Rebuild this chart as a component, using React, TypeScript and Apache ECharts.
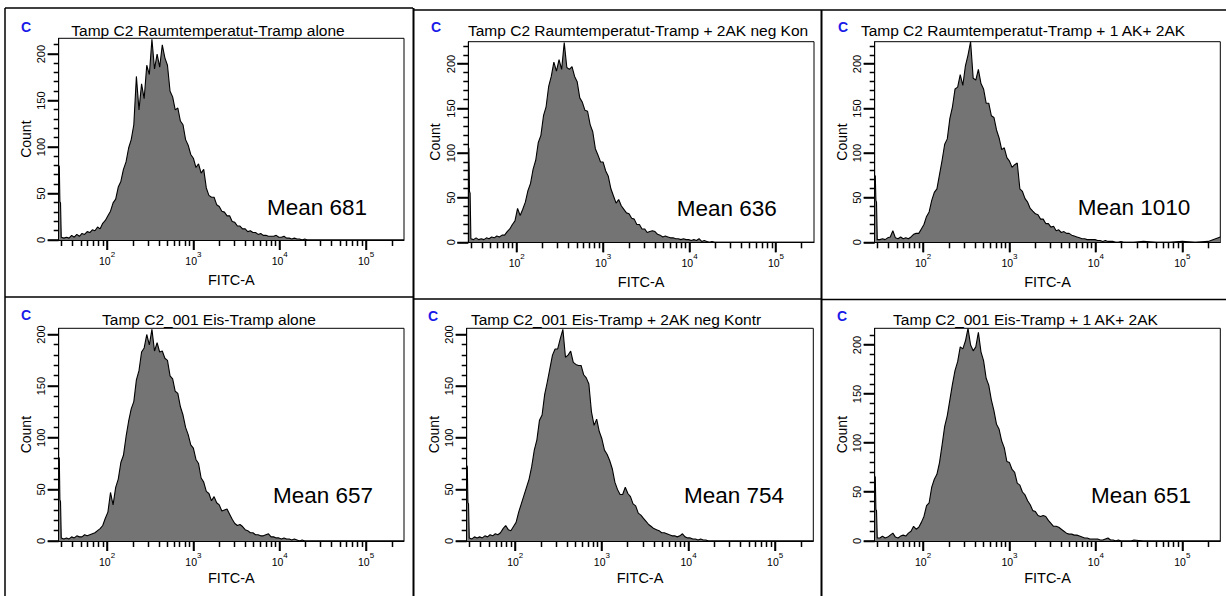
import React, { useEffect, useRef } from "react";
import * as echarts from "echarts";

const FONT = "'Liberation Sans', Arial, Helvetica, sans-serif";

// Bin centres of the FITC-A histogram, in log10(FITC-A) units
const BIN_LOG = [
  1.44, 1.447, 1.454, 1.461, 1.47,
  1.5, 1.53, 1.56, 1.59, 1.62, 1.65, 1.68, 1.71,
  1.74, 1.77, 1.8, 1.83, 1.86, 1.89, 1.92, 1.95, 1.98, 2.01,
  2.04, 2.07, 2.1, 2.13, 2.16, 2.19, 2.22, 2.25, 2.28, 2.31,
  2.34, 2.37, 2.4, 2.43, 2.46, 2.49, 2.52, 2.55, 2.58, 2.61,
  2.64, 2.67, 2.7, 2.73, 2.76, 2.79, 2.82, 2.85, 2.88, 2.91,
  2.94, 2.97, 3.0, 3.03, 3.06, 3.09, 3.12, 3.15, 3.18, 3.21,
  3.24, 3.27, 3.3, 3.33, 3.36, 3.39, 3.42, 3.45, 3.48, 3.51,
  3.54, 3.57, 3.6, 3.63, 3.66, 3.69, 3.72, 3.75, 3.78, 3.81,
  3.84, 3.87, 3.9, 3.93, 3.96, 3.99, 4.02, 4.05, 4.08, 4.11,
  4.14, 4.17, 4.2, 4.23, 4.26, 4.29, 4.32, 4.35, 4.38, 4.41,
  4.44,
  4.55, 4.7, 4.85, 5.0, 5.15, 5.3, 5.44,
];

const COUNTS_RT_ALONE = [
  80, 79, 41, 40, 3,
  2, 3, 2, 5, 3, 6, 4, 7,
  6, 9, 8, 11, 10, 14, 12, 18, 21, 26,
  31, 40, 44, 57, 63, 76, 84, 99, 108, 124,
  176, 140, 168, 152, 188, 178, 216, 184, 200, 186,
  210, 196, 188, 160, 154, 140, 142, 128, 124, 108,
  102, 92, 88, 78, 82, 72, 76, 56, 48, 46,
  46, 38, 36, 31, 30, 26, 26, 20, 19, 15,
  15, 12, 12, 9, 10, 8, 8, 6, 7, 5,
  5, 4, 4, 4, 5, 3, 3, 4, 2, 2,
  1, 2, 1, 1, 0, 1, 0, 0, 0, 0,
  0,
  0, 0, 0, 0, 0, 0, 0,
];

const COUNTS_RT_NEG = [
  107, 105, 57, 55, 4,
  3, 5, 3, 4, 3, 5, 4, 6,
  5, 7, 6, 8, 8, 12, 15, 20, 24, 38,
  30, 37, 45, 58, 66, 82, 92, 112, 120, 142,
  152, 175, 186, 202, 192, 205, 194, 224, 196, 194,
  197, 186, 180, 162, 157, 148, 147, 132, 124, 105,
  98, 90, 90, 80, 74, 60, 52, 44, 48, 41,
  37, 33, 32, 27, 26, 20, 20, 15, 15, 11,
  12, 13, 12, 9, 8, 6, 7, 6, 5, 5,
  4, 4, 3, 4, 3, 3, 2, 3, 2, 4,
  1, 2, 1, 0, 1, 0, 0, 0, 0, 0,
  0,
  0, 0, 0, 0, 0, 0, 0,
];

const COUNTS_RT_AK = [
  75, 74, 47, 45, 3,
  3, 4, 3, 5, 6, 13, 5, 4,
  6, 4, 5, 4, 6, 9, 10, 10, 15, 20,
  29, 34, 47, 56, 60, 76, 92, 110, 116, 139,
  152, 172, 174, 188, 176, 198, 210, 225, 184, 182,
  194, 178, 172, 156, 156, 142, 140, 126, 117, 104,
  106, 95, 91, 84, 87, 89, 60, 57, 49, 45,
  38, 35, 32, 31, 26, 26, 21, 21, 17, 18,
  13, 14, 11, 12, 10, 10, 8, 7, 6, 5,
  4, 4, 3, 3, 3, 3, 2, 2, 1, 2,
  1, 1, 1, 0, 0, 1, 0, 0, 0, 0,
  0,
  1, 0, 0, 1, 0, 1, 6,
];

const COUNTS_ICE_ALONE = [
  81, 80, 40, 38, 3,
  2, 3, 2, 4, 3, 5, 4, 4,
  6, 5, 6, 7, 8, 10, 12, 15, 22, 28,
  47, 35, 52, 60, 76, 83, 101, 116, 128, 135,
  156, 165, 183, 187, 200, 190, 205, 184, 192, 183,
  184, 177, 175, 160, 157, 145, 143, 130, 122, 110,
  103, 93, 90, 79, 75, 61, 57, 48, 46, 39,
  43, 37, 35, 29, 30, 31, 26, 21, 17, 15,
  16, 14, 11, 10, 8, 8, 6, 6, 5, 5,
  6, 7, 4, 4, 3, 3, 2, 3, 2, 2,
  1, 2, 1, 0, 1, 0, 0, 0, 0, 0,
  0,
  0, 0, 0, 0, 0, 0, 0,
];

const COUNTS_ICE_NEG = [
  73, 72, 37, 36, 3,
  2, 4, 3, 4, 3, 5, 4, 6,
  5, 7, 6, 8, 12, 15, 11, 10, 14, 18,
  28, 36, 44, 52, 60, 72, 88, 98, 117, 122,
  142, 154, 167, 180, 186, 186, 196, 205, 178, 180,
  184, 173, 171, 170, 170, 161, 158, 152, 125, 112,
  118, 106, 99, 88, 84, 78, 70, 57, 50, 45,
  45, 52, 46, 43, 36, 34, 27, 25, 22, 19,
  16, 14, 12, 11, 10, 8, 8, 7, 6, 5,
  5, 4, 5, 7, 4, 3, 3, 2, 2, 1,
  2, 1, 1, 0, 0, 0, 0, 0, 0, 0,
  0,
  0, 0, 0, 0, 0, 0, 0,
];

const COUNTS_ICE_AK = [
  66, 65, 32, 31, 3,
  3, 5, 3, 4, 6, 8, 4, 3,
  5, 6, 5, 8, 10, 15, 12, 14, 19, 25,
  36, 39, 55, 63, 68, 80, 98, 117, 128, 144,
  160, 174, 183, 198, 196, 204, 217, 200, 194, 198,
  213, 193, 184, 166, 159, 144, 133, 119, 114, 102,
  95, 81, 80, 73, 70, 59, 57, 50, 47, 41,
  37, 31, 30, 26, 25, 26, 25, 21, 18, 15,
  15, 14, 12, 10, 8, 7, 7, 6, 6, 5,
  4, 3, 3, 2, 2, 2, 2, 1, 1, 2,
  3, 1, 1, 0, 1, 0, 0, 0, 0, 0,
  1,
  0, 0, 0, 0, 0, 0, 0,
];

const SERIES_COUNTS = [
  COUNTS_RT_ALONE,
  COUNTS_RT_NEG,
  COUNTS_RT_AK,
  COUNTS_ICE_ALONE,
  COUNTS_ICE_NEG,
  COUNTS_ICE_AK,
];

const TITLES = [
  "Tamp C2 Raumtemperatut-Tramp alone",
  "Tamp C2 Raumtemperatut-Tramp + 2AK neg Kontr",
  "Tamp C2 Raumtemperatut-Tramp + 1 AK+ 2AK",
  "Tamp C2_001 Eis-Tramp alone",
  "Tamp C2_001 Eis-Tramp + 2AK neg Kontr",
  "Tamp C2_001 Eis-Tramp + 1 AK+ 2AK",
];

const MEANS = ["Mean 681", "Mean 636", "Mean 1010", "Mean 657", "Mean 754", "Mean 651"];

const Y_MAX = [217, 225, 225, 206, 206, 217];

const X_MIN = 1.44;
const X_MAX = 5.44;
const X_MAJOR = [2, 3, 4, 5];
const X_MINOR_VALUES = [
  30, 40, 50, 60, 70, 80, 90,
  200, 300, 400, 500, 600, 700, 800, 900,
  2000, 3000, 4000, 5000, 6000, 7000, 8000, 9000,
  20000, 30000, 40000, 50000, 60000, 70000, 80000, 90000,
  200000,
];
const Y_MAJOR = [0, 50, 100, 150, 200];
const Y_MINOR = [10, 20, 30, 40, 60, 70, 80, 90, 110, 120, 130, 140, 160, 170, 180, 190, 210, 220];

// ---- layout (pixels) ----
const RECTS = [
  { l: 58.7, t: 38.3, w: 345.3, h: 201.7 },
  { l: 468.3, t: 41.7, w: 345.7, h: 200.6 },
  { l: 874.7, t: 41.7, w: 345.6, h: 200.6 },
  { l: 58.7, t: 328.3, w: 345.3, h: 212.7 },
  { l: 466.7, t: 328.3, w: 346.6, h: 212.7 },
  { l: 874.7, t: 328.3, w: 345.6, h: 212.7 },
];
const X_NAME_GAP = [32, 32, 32, 29, 29, 29];
const C_POS = [
  [21, 27], [431, 27], [838, 27],
  [21, 315], [428, 316], [837, 316],
];
const TITLE_POS = [
  { x: 208, y: 30, align: "center" },
  { x: 468, y: 30, align: "left" },
  { x: 1023, y: 30, align: "center" },
  { x: 209, y: 319.5, align: "center" },
  { x: 616, y: 319, align: "center" },
  { x: 1025.5, y: 319, align: "center" },
];
const MEAN_POS = [
  [267, 207], [676.7, 208], [1077.7, 207.5],
  [273, 495], [684, 495], [1091, 495],
];
const TICK_LEN = { xMajor: 10, xMinor: 6, yMajor: 11, yMinor: 5 };
const TICK_WIDTH = 1.5;

const crisp = (v: number) => Math.round(v - 0.5) + 0.5;

function buildOption() {
  const grid: any[] = [];
  const xAxis: any[] = [];
  const yAxis: any[] = [];
  const series: any[] = [];

  SERIES_COUNTS.forEach((counts, i) => {
    const r = RECTS[i];
    grid.push({
      left: r.l, top: r.t, width: r.w, height: r.h,
      show: true, borderColor: "#000", borderWidth: 1, backgroundColor: "#fff",
    });

    xAxis.push({
      gridIndex: i,
      type: "value",
      min: X_MIN,
      max: X_MAX,
      z: 5,
      axisLine: { show: true, lineStyle: { color: "#000", width: 1 } },
      axisTick: {
        show: true,
        length: TICK_LEN.xMajor,
        customValues: X_MAJOR,
        lineStyle: { color: "#000", width: TICK_WIDTH },
      },
      axisLabel: {
        customValues: X_MAJOR,
        margin: 10,
        formatter: (v: number) => `{b|10}{s|${Math.round(v)}}`,
        rich: {
          b: { fontSize: 10.5, lineHeight: 16, verticalAlign: "bottom", color: "#000", fontFamily: FONT },
          s: { fontSize: 8, lineHeight: 16, verticalAlign: "top", color: "#000", fontFamily: FONT },
        },
      },
      splitLine: { show: false },
      name: "FITC-A",
      nameLocation: "middle",
      nameGap: X_NAME_GAP[i],
      nameTextStyle: { fontSize: 14.5, color: "#000", fontFamily: FONT },
    });

    yAxis.push({
      gridIndex: i,
      type: "value",
      min: 0,
      max: Y_MAX[i],
      z: 5,
      axisLine: { show: true, lineStyle: { color: "#000", width: 1 } },
      axisTick: {
        show: true,
        length: TICK_LEN.yMajor,
        customValues: Y_MAJOR,
        lineStyle: { color: "#000", width: TICK_WIDTH },
      },
      axisLabel: {
        customValues: Y_MAJOR,
        rotate: 90,
        margin: 12,
        fontSize: 11,
        color: "#000",
        fontFamily: FONT,
      },
      splitLine: { show: false },
      name: "Count",
      nameLocation: "middle",
      nameGap: 26,
      nameTextStyle: { fontSize: 14, color: "#000", fontFamily: FONT },
    });

    series.push({
      type: "line",
      xAxisIndex: i,
      yAxisIndex: i,
      data: BIN_LOG.map((x, j) => [x, counts[j]]),
      symbol: "none",
      showSymbol: false,
      clip: true,
      silent: true,
      lineStyle: { color: "#000", width: 1.1 },
      areaStyle: { color: "#747474", opacity: 1 },
      z: 2,
    });
  });

  return {
    animation: false,
    backgroundColor: "#fff",
    textStyle: { fontFamily: FONT },
    grid,
    xAxis,
    yAxis,
    series,
  };
}

function buildGraphic(chart: echarts.ECharts) {
  const graphic: any[] = [];
  const line = (x1: number, y1: number, x2: number, y2: number, w = 1.5) =>
    graphic.push({
      type: "line",
      z: 10,
      shape: { x1, y1, x2, y2 },
      style: { stroke: "#000", lineWidth: w },
    });
  // panel frames
  line(5, 8, 5, 596);
  line(5, 8, 413, 8);
  line(413, 10, 1226, 10);
  line(413.5, 8, 413.5, 596, 2);
  line(821.5, 10, 821.5, 596, 2);
  line(5, 297, 413, 297);
  line(413, 299, 821, 299);
  line(821, 299.5, 1226, 299.5);

  // axis ticks, positioned through each grid's own scales
  const xMinorLog = X_MINOR_VALUES.map((v) => Math.log10(v));
  SERIES_COUNTS.forEach((_c, i) => {
    const finder = { gridIndex: i };
    const xTick = (v: number, len: number) => {
      const p = chart.convertToPixel(finder as any, [v, 0]) as number[];
      if (!p || !isFinite(p[0]) || !isFinite(p[1])) return;
      const x = crisp(p[0]);
      line(x, p[1], x, p[1] + len, TICK_WIDTH);
    };
    const yTick = (v: number, len: number) => {
      const p = chart.convertToPixel(finder as any, [X_MIN, v]) as number[];
      if (!p || !isFinite(p[0]) || !isFinite(p[1])) return;
      const y = crisp(p[1]);
      line(p[0] - len, y, p[0], y, TICK_WIDTH);
    };
    X_MAJOR.forEach((v) => xTick(v, TICK_LEN.xMajor));
    xMinorLog.forEach((v) => xTick(v, TICK_LEN.xMinor));
    Y_MAJOR.forEach((v) => yTick(v, TICK_LEN.yMajor));
    Y_MINOR.filter((v) => v < Y_MAX[i]).forEach((v) => yTick(v, TICK_LEN.yMinor));
  });

  TITLES.forEach((t, i) => {
    graphic.push({
      type: "text",
      z: 10,
      x: C_POS[i][0],
      y: C_POS[i][1],
      style: {
        text: "C",
        fill: "#1a1ae8",
        fontSize: 14,
        fontWeight: "bold",
        fontFamily: FONT,
        align: "left",
        verticalAlign: "middle",
      },
    });
    const tp = TITLE_POS[i];
    const titleStyle: any = {
      text: t,
      fill: "#000",
      fontSize: 15.5,
      fontFamily: FONT,
      align: tp.align,
      verticalAlign: "middle",
    };
    if (i === 1) {
      titleStyle.width = 345;
      titleStyle.overflow = "truncate";
      titleStyle.ellipsis = "";
    }
    graphic.push({ type: "text", z: 10, x: tp.x, y: tp.y, style: titleStyle });
    graphic.push({
      type: "text",
      z: 10,
      x: MEAN_POS[i][0],
      y: MEAN_POS[i][1],
      style: {
        text: MEANS[i],
        fill: "#000",
        fontSize: 22.5,
        fontFamily: FONT,
        align: "left",
        verticalAlign: "middle",
      },
    });
  });
  return graphic;
}

export default function App() {
  const ref = useRef<HTMLDivElement>(null);
  useEffect(() => {
    if (!ref.current) return;
    const chart = echarts.init(ref.current, null, { renderer: "svg" });
    chart.setOption(buildOption() as any);
    chart.setOption({ graphic: buildGraphic(chart) } as any);
    return () => chart.dispose();
  }, []);
  return (
    <div
      ref={ref}
      style={{ position: "absolute", left: 0, top: 0, width: 1226, height: 596, background: "#fff" }}
    />
  );
}
